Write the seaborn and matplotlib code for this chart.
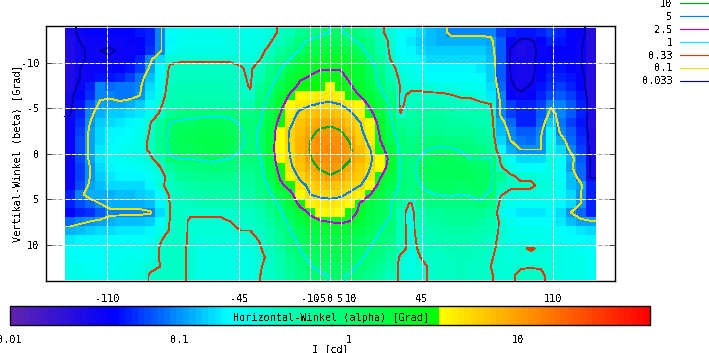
import numpy as np
import matplotlib
matplotlib.use("Agg")
import matplotlib.pyplot as plt
from matplotlib.colors import LinearSegmentedColormap, LogNorm
from matplotlib.lines import Line2D
from matplotlib.ticker import FixedFormatter, FixedLocator
import seaborn as sns

W, H = 709, 353

# angle of the first and last cell edge of the measured field
alpha_range = [-131, 131]
beta_range = [-13.8, 13.9]
alpha_ticks = [-110, -45, -10, -5, 0, 5, 10, 45, 110]
beta_ticks = [-10, -5, 0, 5, 10]
bar_ticks = [0.01, 0.1, 1, 10]
bar_labels = ["0.01", "0.1", "1", "10"]

contour_levels = [0.033, 0.1, 0.33, 1, 2.5, 5, 10]
contour_colors = ["#0000a8", "#f0e000", "#e03800", "#00e8f0", "#b000e0", "#0080f0", "#00a820"]
legend_levels = ["10", "5", "2.5", "1", "0.33", "0.1", "0.033"]

# luminous intensity in cd, one row per degree of beta, one column per 5 degrees of alpha
row_m13 = [.03,.035,.04,.042,.042,.042,.042,.045,.05,.09,.2,.22,.23,.24,.24,.25,.25,.25,.24,.25,.28,.36,.45,.6,.75,.9,1.02,1.02,.95,.75,.55,.36,.28,.2,.19,.15,.13,.12,.09,.09,.09,.09,.09,.06,.05,.045,.045,.05,.06,.05,.04,.04,.025]
row_m12 = [.028,.033,.036,.036,.035,.036,.038,.04,.05,.09,.19,.22,.23,.23,.23,.24,.25,.25,.25,.27,.32,.42,.55,.9,1.1,1.2,1.25,1.25,1.05,.95,.75,.45,.3,.2,.17,.14,.13,.12,.12,.12,.12,.12,.11,.07,.04,.03,.03,.04,.05,.045,.04,.036,.025]
row_m11 = [.027,.032,.034,.033,.032,.034,.036,.04,.055,.09,.2,.25,.26,.27,.27,.27,.27,.27,.26,.29,.38,.55,.75,1.05,1.4,1.6,1.7,1.7,1.5,1.15,.8,.5,.3,.21,.18,.16,.14,.14,.14,.14,.14,.14,.12,.07,.031,.028,.03,.036,.04,.04,.037,.034,.024]
row_m10 = [.026,.032,.034,.034,.034,.036,.04,.05,.09,.16,.3,.31,.31,.31,.31,.31,.31,.31,.29,.33,.5,.75,1.05,1.5,1.9,2.2,2.3,2.3,2,1.5,1.05,.6,.33,.24,.2,.18,.16,.16,.16,.16,.16,.16,.13,.07,.032,.03,.03,.037,.04,.04,.038,.034,.024]
row_m9 = [.026,.033,.036,.036,.037,.04,.046,.06,.11,.2,.36,.38,.38,.38,.38,.38,.38,.34,.31,.42,.7,1,1.4,1.9,2.2,2.45,2.45,2.45,2.3,1.9,1.3,.75,.4,.27,.23,.2,.18,.18,.18,.18,.18,.17,.14,.07,.032,.03,.03,.038,.045,.045,.04,.035,.024]
row_m8 = [.027,.033,.036,.045,.045,.05,.06,.085,.13,.22,.38,.4,.41,.42,.42,.42,.41,.36,.31,.5,.75,1.15,1.7,2.35,2.6,2.8,2.9,2.8,2.3,1.9,1.3,.85,.45,.3,.26,.22,.2,.2,.2,.2,.2,.2,.14,.07,.033,.03,.03,.04,.05,.05,.045,.04,.024]
row_m7 = [.028,.036,.05,.09,.08,.085,.088,.095,.15,.24,.4,.43,.43,.43,.43,.43,.42,.38,.32,.62,.95,1.4,2.1,2.8,3.2,3.35,3.4,3.3,2.6,2.1,1.5,.97,.55,.32,.3,.3,.28,.27,.25,.24,.24,.22,.15,.08,.035,.03,.034,.045,.055,.06,.05,.04,.025]
row_m6 = [.03,.04,.055,.09,.095,.085,.088,.1,.17,.26,.42,.46,.46,.46,.46,.46,.45,.42,.36,.72,1.1,1.7,2.7,3.5,3.9,4.2,4.3,3.9,3.2,2.4,1.75,1.2,.72,.3,.36,.36,.36,.36,.34,.31,.31,.27,.17,.09,.04,.035,.04,.05,.065,.07,.06,.045,.026]
row_m5 = [.03,.045,.07,.11,.11,.11,.12,.14,.2,.3,.46,.5,.52,.54,.54,.54,.52,.48,.5,.85,1.2,2.1,3.5,4.2,4.8,5.2,5.3,5,4.3,3.5,2.2,1.5,.95,.29,.42,.45,.45,.43,.42,.4,.38,.36,.34,.095,.06,.05,.05,.06,.095,.09,.07,.05,.026]
row_m4 = [.032,.05,.09,.12,.14,.14,.15,.17,.24,.35,.62,.75,.8,.85,.88,.88,.85,.8,.75,.95,1.4,2.5,4,5.6,6.6,7.2,7.3,6.8,5.3,4,2.8,1.8,1,.33,.52,.58,.58,.55,.52,.5,.48,.46,.42,.09,.06,.05,.05,.07,.11,.09,.07,.05,.027]
row_m3 = [.035,.055,.1,.14,.16,.17,.18,.22,.32,.55,1.02,1.1,1.15,1.2,1.25,1.25,1.15,.95,.85,1,1.6,3.1,4.6,6.4,8,9,9.3,8.5,6.5,5,3.4,2.1,1.1,.62,.58,.62,.62,.6,.58,.55,.52,.5,.46,.12,.075,.05,.05,.08,.14,.085,.06,.045,.026]
row_m2 = [.035,.06,.11,.15,.18,.19,.2,.24,.34,.65,1.1,1.25,1.3,1.35,1.4,1.4,1.3,1.05,.9,1.05,1.8,3.5,5.3,7.3,9.3,10.5,11,10.3,8,5.4,3.9,2.3,1.2,.75,.65,.68,.7,.68,.65,.62,.6,.55,.5,.13,.09,.07,.07,.09,.2,.09,.07,.05,.027]
row_m1 = [.036,.065,.11,.16,.19,.21,.22,.26,.36,.7,1.15,1.3,1.35,1.45,1.55,1.5,1.35,1.05,.92,1.05,1.9,3.6,5.4,7.5,10,11.5,12,11.5,9.7,6,4.4,2.5,1.35,.85,.75,.8,.85,.85,.82,.78,.72,.65,.55,.16,.1,.085,.08,.1,.24,.12,.08,.055,.028]
row_0 = [.036,.065,.11,.17,.2,.22,.24,.27,.36,.7,1.1,1.25,1.3,1.4,1.5,1.45,1.3,1.02,.9,1.03,1.95,3.7,5.2,7.6,10.3,12,12.6,12.2,10.5,7,5,3.3,1.6,.92,.82,.9,1.03,1.08,1.05,.98,.85,.8,.65,.2,.12,.1,.1,.1,.27,.15,.09,.06,.028]
row_p1 = [.036,.065,.11,.17,.2,.22,.23,.25,.3,.45,.95,1.02,1.02,1.05,1.1,1.05,1,.9,.85,1,1.8,3.6,5,7.3,9.8,12,12.4,12,10.3,7.6,5.4,3.5,2.2,.95,.8,1.05,1.15,1.2,1.2,1.1,1,1,1.05,.3,.2,.16,.15,.16,.28,.2,.12,.07,.03]
row_p2 = [.035,.06,.1,.15,.19,.2,.2,.22,.26,.32,.55,.72,.78,.82,.85,.85,.82,.78,.75,.9,1.6,3.2,4.6,6.5,8.8,10.5,11,10.5,8.7,6.8,5,3.5,1.9,.98,.8,1.2,1.25,1.3,1.3,1.2,1.1,1.05,1.1,.35,.25,.2,.2,.2,.25,.2,.105,.08,.03]
row_p3 = [.035,.06,.1,.14,.17,.18,.18,.19,.22,.27,.4,.6,.65,.68,.7,.7,.68,.65,.65,.82,1.4,2.7,4,5.4,7,8.8,9.8,9,7.2,6,4.5,2.6,1.6,.98,.8,1.15,1.25,1.3,1.3,1.25,1.2,1.1,1.1,.7,.36,.3,.3,.26,.25,.2,.13,.08,.03]
row_p4 = [.036,.065,.11,.13,.15,.15,.16,.16,.18,.3,.38,.48,.52,.55,.58,.58,.58,.58,.58,.75,1.15,2.2,3.1,4.5,5.4,6.5,7,6.5,5.6,5,3.7,2,1.35,.95,.8,1,1.1,1.15,1.15,1.05,1.1,1.1,1.05,.5,.36,.36,.36,.3,.28,.22,.13,.11,.05]
row_p5 = [.05,.09,.12,.12,.12,.13,.13,.14,.15,.2,.36,.42,.46,.5,.52,.52,.52,.52,.52,.66,.95,1.55,2.15,3.7,5,5.4,5.5,5.3,4.7,3.9,2.5,1.6,1.15,.85,.75,.92,.98,1.02,1.05,1,1.05,1.05,.95,.34,.29,.28,.28,.27,.25,.2,.15,.1,.05]
row_p6 = [.05,.065,.08,.1,.115,.115,.115,.12,.13,.18,.34,.38,.42,.44,.46,.46,.47,.48,.48,.58,.8,1.1,1.7,2.9,3.8,4.3,4.5,4.3,3.7,2.4,1.6,1.25,1.05,.55,.3,.7,.8,.8,.82,.8,.8,.98,.75,.28,.24,.22,.22,.22,.22,.19,.15,.1,.05]
row_p7 = [.04,.05,.055,.07,.09,.09,.09,.09,.095,.15,.34,.36,.34,.35,.35,.35,.35,.37,.38,.48,.66,.95,1.35,2,2.7,3.5,3.9,3.5,2.9,2.3,1.5,1.25,1.05,.4,.27,.5,.62,.65,.66,.66,.66,.66,.55,.24,.19,.17,.17,.17,.18,.16,.1,.08,.05]
row_p8 = [.08,.09,.1,.11,.12,.125,.13,.135,.14,.2,.34,.36,.32,.31,.31,.31,.33,.35,.37,.42,.58,.8,1.15,1.6,2.1,2.4,2.55,2.7,2.45,2,1.4,1.1,.95,.4,.27,.45,.55,.58,.6,.6,.6,.58,.5,.3,.24,.21,.2,.2,.2,.17,.13,.11,.105]
row_p9 = [.12,.13,.14,.15,.16,.165,.17,.175,.18,.24,.35,.36,.32,.3,.3,.3,.31,.33,.33,.38,.5,.7,1,1.3,1.6,1.8,1.9,1.9,1.75,1.5,1.2,1,.85,.4,.28,.42,.5,.52,.54,.54,.52,.5,.45,.3,.26,.24,.23,.23,.22,.2,.18,.17,.16]
row_p10 = [.17,.18,.18,.19,.2,.2,.2,.2,.22,.32,.37,.38,.31,.28,.28,.28,.28,.29,.3,.34,.46,.62,.88,1.12,1.35,1.5,1.6,1.6,1.5,1.3,1.08,.92,.75,.4,.28,.38,.44,.46,.48,.48,.46,.44,.38,.3,.27,.25,.24,.24,.24,.22,.21,.2,.19]
row_p11 = [.2,.2,.2,.21,.22,.22,.22,.22,.25,.34,.38,.38,.3,.27,.26,.26,.26,.27,.28,.32,.42,.56,.78,1.02,1.2,1.35,1.45,1.45,1.35,1.15,.98,.82,.66,.4,.28,.36,.4,.42,.44,.44,.42,.4,.36,.3,.28,.31,.345,.31,.28,.25,.23,.22,.21]
row_p12 = [.22,.21,.21,.21,.22,.22,.23,.24,.27,.34,.38,.37,.3,.26,.25,.25,.25,.26,.27,.3,.37,.5,.7,.92,1.08,1.2,1.3,1.32,1.25,1.05,.88,.72,.55,.3,.27,.33,.36,.38,.4,.42,.4,.38,.34,.3,.28,.28,.29,.28,.27,.25,.24,.23,.22]
row_p13 = [.23,.23,.22,.21,.22,.23,.24,.26,.31,.33,.36,.36,.31,.27,.25,.25,.25,.26,.27,.32,.38,.47,.62,.82,.98,1.08,1.15,1.18,1.08,.95,.78,.62,.46,.29,.26,.31,.34,.36,.38,.4,.38,.36,.33,.3,.3,.32,.32,.32,.29,.26,.24,.23,.22]
row_p14 = [.24,.24,.23,.22,.23,.24,.25,.28,.34,.36,.38,.36,.31,.27,.25,.25,.25,.26,.27,.33,.38,.45,.57,.72,.85,.95,1.02,1.02,.98,.82,.68,.55,.42,.3,.28,.31,.34,.36,.38,.4,.38,.36,.34,.3,.31,.36,.38,.36,.29,.26,.24,.23,.22]

rows = [row_m13, row_m12, row_m11, row_m10, row_m9, row_m8, row_m7, row_m6, row_m5, row_m4,
        row_m3, row_m2, row_m1, row_0, row_p1, row_p2, row_p3, row_p4, row_p5, row_p6, row_p7,
        row_p8, row_p9, row_p10, row_p11, row_p12, row_p13, row_p14]
intensity = np.array(rows)
n_beta, n_alpha = intensity.shape


def a2i(a):
    return (np.asarray(a) - alpha_range[0]) / (alpha_range[1] - alpha_range[0]) * n_alpha


def b2j(b):
    return (np.asarray(b) - beta_range[0]) / (beta_range[1] - beta_range[0]) * n_beta


sns.set_theme(style="white")
plt.rcParams["font.family"] = ["DejaVu Sans Mono"]
plt.rcParams["font.size"] = 7.4
plt.rcParams["text.antialiased"] = False
plt.rcParams["axes.edgecolor"] = "black"
plt.rcParams["axes.linewidth"] = 1.0

# palette of the bar: jump from green to yellow just above 3.47 cd
vmin, vmax = 0.01, 60
pos = lambda v: (np.log10(v) - np.log10(vmin)) / (np.log10(vmax) - np.log10(vmin))
stops = [(0, "#5f22b0"), (pos(0.04), "#0000ff"), (pos(0.19), "#00ffff"), (pos(3.47), "#00ff00"),
         (pos(3.48), "#ffff00"), (1, "#ff0000")]
cmap = LinearSegmentedColormap.from_list("lum", stops, N=100)
norm = LogNorm(vmin=vmin, vmax=vmax)

fig = plt.figure(figsize=(W / 100, H / 100), dpi=100)
ax = fig.add_axes([46.3 / W, 1 - 281.3 / H, 568.4 / W, 255.8 / H])
cax = fig.add_axes([10 / W, 1 - 325 / H, 640 / W, 19.3 / H])
ax.set_zorder(2)

sns.heatmap(intensity, ax=ax, cmap=cmap, norm=norm, cbar_ax=cax,
            cbar_kws={"orientation": "horizontal"}, xticklabels=False, yticklabels=False)

# contours on the same table, edge cells repeated so that lines reach the border
xs = np.r_[0, np.arange(n_alpha) + 0.5, n_alpha]
ys = np.r_[0, np.arange(n_beta) + 0.5, n_beta]
ax.contour(xs, ys, np.log10(np.pad(intensity, 1, mode="edge")), levels=np.log10(contour_levels),
           colors=contour_colors, linewidths=0.6, antialiased=False, zorder=3)

x0, x1 = a2i(-140.2), a2i(140.3)
y0, y1 = b2j(14.04), b2j(-14.07)
ax.set_xlim(x0, x1)
ax.set_ylim(y0, y1)

# grid: grey on paper, white over the field
grid_style = (0, (5, 1))
for b in beta_ticks:
    ax.plot([x0, x1], [b2j(b)] * 2, color="#a0a0a0", lw=0.72, ls=(0, (4, 2)), zorder=0.5)
    ax.plot(a2i(alpha_range), [b2j(b)] * 2, color="white", lw=0.72, ls=grid_style, zorder=4)
for a in alpha_ticks:
    ax.plot([a2i(a)] * 2, [y0, y1], color="white", lw=0.72, ls=grid_style, zorder=4)

ax.set_xticks(a2i(alpha_ticks))
ax.set_xticklabels([str(a) for a in alpha_ticks])
ax.set_yticks(b2j(beta_ticks))
ax.set_yticklabels([str(b) for b in beta_ticks])
ax.tick_params(axis="x", direction="in", length=4.3, width=0.72, color="black", top=True, bottom=True,
               pad=9, labelsize=7.4, labelcolor="black")
ax.tick_params(axis="y", direction="in", length=4.3, width=0.72, color="#404040", left=True, right=True,
               pad=5, labelsize=7.4, labelcolor="black", labelrotation=0)
for s in ax.spines.values():
    s.set_visible(True)
    s.set_linewidth(1.0)
    s.set_color("black")
ax.set_ylabel("Vertikal-Winkel (beta) [Grad]", fontsize=7.4, labelpad=-1, color="black")
ax.set_xlabel("Horizontal-Winkel (alpha) [Grad]", fontsize=7.4, labelpad=6.6, color="black")

cb = ax.collections[0].colorbar
cb.outline.set_visible(True)
cb.outline.set_linewidth(1.0)
cb.outline.set_edgecolor("black")
cax.xaxis.set_major_locator(FixedLocator(bar_ticks))
cax.xaxis.set_major_formatter(FixedFormatter(bar_labels))
cax.xaxis.set_minor_formatter(FixedFormatter([]))
cax.tick_params(axis="x", which="major", direction="in", length=4.3, width=0.72, top=True, bottom=True,
                pad=7, labelsize=7.4, color="black", labelcolor="black")
cax.tick_params(axis="x", which="minor", direction="in", length=2.2, width=0.72, top=True, bottom=True,
                color="black")
cax.set_xlabel("I [cd]", fontsize=7.4, labelpad=-0.8, color="black")

# key sits outside the axes, highest level first
handles = [Line2D([], [], color=c, lw=0.85) for c in contour_colors[::-1]]
fig.legend(handles, legend_levels, loc="upper right", bbox_to_anchor=(1.0, 1.004), frameon=False,
           markerfirst=False, fontsize=7.4, handlelength=2.85, handletextpad=0.7, labelspacing=0.29,
           borderaxespad=0, borderpad=0, labelcolor="black")

fig.savefig("out.png", dpi=100)
